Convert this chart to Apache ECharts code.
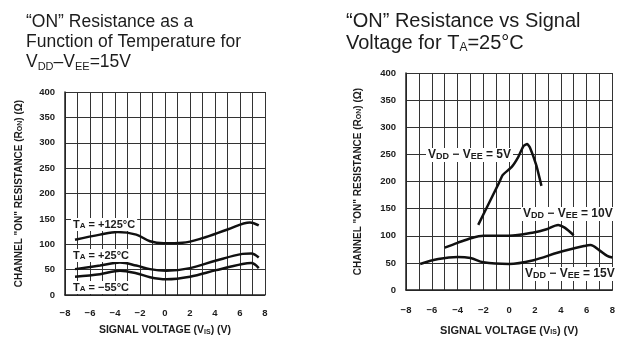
<!DOCTYPE html>
<html>
<head>
<meta charset="utf-8">
<script src="https://cdn.jsdelivr.net/npm/echarts@6/dist/echarts.min.js"></script>
<style>
  html, body { margin: 0; padding: 0; background: #fff; }
  #chart { width: 618px; height: 341px; }
</style>
</head>
<body>
<div id="chart"></div>
<script>
// left panel: R_ON vs signal voltage at three temperatures (V_DD - V_EE = 15V)
const tempHot = [[-7.2, 109], [-5.2, 119], [-3.8, 124], [-2.3, 119], [-1.2, 106], [-0.1, 102], [1.4, 103], [3, 112], [5, 129], [6.8, 143], [7.5, 137]];
const tempRoom = [[-7.2, 51], [-5.2, 58], [-3.6, 64], [-2.3, 58], [-1.2, 51], [0.1, 48], [2, 53], [4.1, 68], [6.2, 81], [6.9, 82], [7.5, 74]];
const tempCold = [[-7.2, 36], [-5.2, 41], [-3.6, 48], [-2.3, 43], [-1.2, 35], [0.1, 31], [2, 36], [4.1, 49], [6.2, 61], [6.9, 63], [7.5, 53]];

// right panel: R_ON vs signal voltage at three supply voltages (T_A = 25C)
const supply5 = [[-2.4, 120], [-0.8, 197], [-0.5, 212], [0.2, 227], [0.7, 245], [1.1, 265], [1.4, 269], [1.6, 263], [2.1, 230], [2.5, 192]];
const supply10 = [[-5, 78], [-4, 87], [-2.9, 96], [-2, 100], [0, 100], [1.9, 106], [2.9, 112], [3.8, 120], [4.3, 115], [5, 101]];
const supply15 = [[-6.9, 48], [-5.5, 57], [-4, 61], [-3, 59], [-2, 51], [0, 48], [1.9, 55], [3.8, 69], [5.8, 81], [6.3, 83], [7, 73], [7.6, 63], [8, 60]];

const xRange = [-8, 8];
const yRange = [0, 400];

const FONT = "Liberation Sans";
const INK = "#1c1c1c";
const sub = { fontSize: 7, fontFamily: FONT, fontWeight: "bold", color: INK, verticalAlign: "bottom", lineHeight: 9 };

function xAxis(gridIndex, labelMargin, nameGap, nameSize) {
  return {
    type: "value", gridIndex, min: xRange[0], max: xRange[1], interval: 1,
    name: "SIGNAL VOLTAGE (V{s|IS}) (V)", nameLocation: "middle", nameGap,
    nameTextStyle: { fontSize: nameSize, fontFamily: FONT, fontWeight: "bold", color: INK, rich: { s: sub } },
    axisLine: { onZero: false, lineStyle: { color: "#222", width: 1.5 } },
    axisTick: { show: false },
    splitLine: { lineStyle: { color: "#333", width: 1 } },
    axisLabel: {
      margin: labelMargin, fontSize: 9.5, fontFamily: FONT, fontWeight: "bold", color: INK,
      formatter: v => (v % 2 ? "" : String(v).replace("-", "\u2212"))
    }
  };
}

function yAxis(gridIndex, nameGap) {
  return {
    type: "value", gridIndex, min: yRange[0], max: yRange[1], interval: 50,
    name: "CHANNEL \"ON\" RESISTANCE (R{s|ON}) (\u03A9)", nameLocation: "middle", nameGap,
    nameTextStyle: { fontSize: 10, fontFamily: FONT, fontWeight: "bold", color: INK, rich: { s: sub } },
    axisLine: { show: true, onZero: false, lineStyle: { color: "#222", width: 1.5 } },
    axisTick: { show: false },
    splitLine: { lineStyle: { color: "#333", width: 1 } },
    axisLabel: { margin: 10, fontSize: 9.5, fontFamily: FONT, fontWeight: "bold", color: INK }
  };
}

function curve(data, xi, smooth) {
  return {
    type: "line", xAxisIndex: xi, yAxisIndex: xi, data, smooth,
    symbol: "none", lineStyle: { color: "#111", width: 2.5 }, silent: true
  };
}

function note(text, left, top, size, subSize) {
  return {
    type: "text", left, top, z: 100,
    style: {
      text, fill: INK, font: "bold " + size + "px " + FONT,
      backgroundColor: "#fff", padding: [1, 2],
      rich: { s: { fontSize: subSize, fontFamily: FONT, fontWeight: "bold", fill: INK, verticalAlign: "bottom", lineHeight: subSize + 2 } }
    }
  };
}

function titleStyle(size, lineHeight) {
  return {
    fontSize: size, lineHeight, fontFamily: FONT, fontWeight: "normal", color: INK,
    rich: { s: { fontSize: Math.round(size * 0.62), lineHeight: Math.round(lineHeight * 0.65), fontFamily: FONT, color: INK, verticalAlign: "bottom" } }
  };
}

const chart = echarts.init(document.getElementById("chart"));
chart.setOption({
  backgroundColor: "#fff",
  animation: false,
  title: [
    { text: "\u201CON\u201D Resistance as a\nFunction of Temperature for\nV{s|DD}\u2013V{s|EE}=15V", left: 26, top: 12, padding: 0, textStyle: titleStyle(17.5, 20) },
    { text: "\u201CON\u201D Resistance vs Signal\nVoltage for T{s|A}=25\u00B0C", left: 346, top: 11, padding: 0, textStyle: titleStyle(20, 21.5) }
  ],
  grid: [
    { left: 65, top: 92, width: 200, height: 206 },
    { left: 406, top: 73, width: 217, height: 220 }
  ],
  xAxis: [xAxis(0, 13, 30, 10.5), xAxis(1, 15, 35, 11)],
  yAxis: [yAxis(0, 41), yAxis(1, 43)],
  series: [
    curve(tempHot, 0, 0.35),
    curve(tempRoom, 0, 0.35),
    curve(tempCold, 0, 0.35),
    curve(supply5, 1, 0.15),
    curve(supply10, 1, 0.3),
    curve(supply15, 1, 0.35)
  ],
  graphic: [
    note("T{s|A} = +125\u00B0C", 71, 218, 11, 8),
    note("T{s|A} = +25\u00B0C", 71, 249, 11, 8),
    note("T{s|A} = \u221255\u00B0C", 71, 281, 11, 8),
    note("V{s|DD} \u2212 V{s|EE} = 5V", 426, 148, 12, 9),
    note("V{s|DD} \u2212 V{s|EE} = 10V", 521, 207, 12, 9),
    note("V{s|DD} \u2212 V{s|EE} = 15V", 523, 267, 12, 9)
  ]
});
</script>
</body>
</html>
